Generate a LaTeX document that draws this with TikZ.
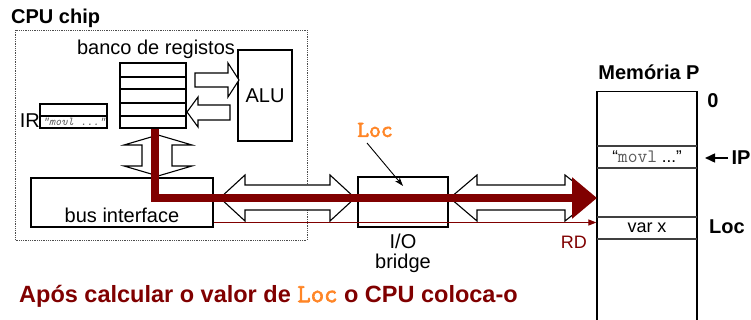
\documentclass[tikz,border=0pt]{standalone}
\usepackage{fontspec}
\setmainfont{Liberation Sans}
\newfontfamily\locfont{Latin Modern Mono}[FakeBold=2.5]
\usetikzlibrary{arrows.meta,positioning}
\definecolor{busRed}{HTML}{800000}
\definecolor{locOrange}{HTML}{FF8526}
\definecolor{irGray}{HTML}{5A5A5A}
\definecolor{cellInk}{HTML}{404040}
\tikzset{
  every picture/.style={font=\fontsize{20}{20}\selectfont},
  cpu box/.style={draw=black, line width=1.2pt, fill=white, inner sep=0pt},
  cpu chip/.style={draw=black!70, line width=0.8pt, densely dotted},
  cpu reg/.style={draw=black, line width=2.4pt},
  cpu hollow/.style={draw=black, line width=1.1pt, fill=white, line join=miter},
  cpu flow/.style={draw=busRed, line width=8pt, line join=miter,
    -{Triangle[length=25pt,width=40pt]}},
  cpu signal/.style={draw=busRed, line width=1pt, -{Triangle[length=8pt,width=6pt]}},
  cpu pointer/.style={draw=black, line width=0.9pt, -{Stealth[length=9pt,width=6pt]}},
  cpu index/.style={draw=black, line width=1.6pt, -{Triangle[length=10pt,width=9pt]}},
  cpu cell/.style={draw=cellInk, line width=1.1pt},
  cpu bold/.style={font=\fontsize{20}{20}\selectfont\bfseries}
}

\begin{document}
\begin{tikzpicture}[x=1pt,y=-1pt]
  \useasboundingbox (0,0) rectangle (751,320);
  \clip (0,0) rectangle (751,320);
  \node[cpu bold, anchor=west, inner sep=0pt] (chiptitle) at (11,18) {CPU chip};
  \draw[cpu chip] (15,30) rectangle (307,240);
  \node[inner sep=0pt] (banktitle) at (156,49) {banco de registos};
  \node[cpu box, minimum width=66pt, minimum height=65pt] (regs) at (153,95.5) {};
  \foreach \y in {77,89,103,116}
    \draw[cpu reg] (120,\y) -- (186,\y);
  \node[cpu box, minimum width=54pt, minimum height=91pt] (alu) at (265,95.5) {ALU};
  \node[cpu box, minimum width=67pt, minimum height=24pt] (ir) at (73.5,116) {};
  \draw[cpu reg, line width=1.4pt] (ir.west) -- (ir.east);
  \node[inner sep=0pt, font=\fontsize{12}{12}\selectfont\ttfamily\itshape, text=irGray]
    (ircode) at (74,122) {“movl ...”};
  \node[anchor=east, inner sep=0pt] (irname) at (40,121) {IR};
  \node[cpu box, minimum width=182pt, minimum height=49pt] (busif) at (122,202.5) {};
  \node[inner sep=0pt] (busname) at (122,215) {bus interface};
  \node[cpu box, minimum width=90pt, minimum height=50pt] (bridge) at (403,202) {};
  \node[below=6pt of bridge, inner sep=0pt, align=center] (bridgename) {I/O\\bridge};
  \node[cpu box, anchor=north, minimum width=100pt, minimum height=240pt] (mem) at (647,91) {};
  \foreach \y in {146,168,217,239}
    \draw[cpu cell] (597,\y) -- (697,\y);
  \node[cpu bold] (memtitle) at (649,72) {Memória P};
  \node[cpu bold] (zero) at (713,101) {0};
  \node[font=\fontsize{17}{17}\selectfont] (ipcell) at (647,157)
    {“\textcolor{irGray}{\fontsize{19}{19}\selectfont\ttfamily movl} ...”};
  \node[font=\fontsize{18}{18}\selectfont] (varx) at (647,228) {var x};
  \node[cpu bold] (iplabel) at (741,158) {IP};
  \node[cpu bold] (memloc) at (727,227) {Loc};
  \draw[cpu index] (iplabel.west) -- ++(-23,0);

  \draw[cpu hollow] (195,73) -- (228,73) -- (228,63) -- (239,80) -- (228,97)
    -- (228,87) -- (195,87) -- cycle;
  \draw[cpu hollow] (230,105) -- (198,105) -- (198,97) -- (187,112) -- (198,127)
    -- (198,120) -- (230,120) -- cycle;
  \draw[cpu hollow] (158,135) -- (192,145) -- (172,145) -- (172,166) -- (192,166)
    -- (158,176) -- (124,166) -- (142,166) -- (142,145) -- (124,145) -- cycle;
  \draw[cpu hollow] (220,198) -- (245,175) -- (245,185) -- (330,185) -- (330,175)
    -- (355,198) -- (330,221) -- (330,210) -- (245,210) -- (245,221) -- cycle;
  \draw[cpu hollow] (450,198) -- (477,175) -- (477,185) -- (565,185) -- (565,175)
    -- (594,198) -- (565,221) -- (565,210) -- (477,210) -- (477,221) -- cycle;

  \coordinate (rdstart) at ([yshift=-20pt]busif.east);
  \draw[cpu signal] (rdstart) -- (rdstart -| mem.west);
  \node[anchor=east, inner sep=0pt, text=busRed, font=\fontsize{18}{18}\selectfont]
    (rdlabel) at (587,242) {RD};
  \coordinate (flowtop) at ([xshift=2pt]regs.south);
  \coordinate (flowend) at (597,198);
  \draw[cpu flow] (flowtop) |- (flowend);

  \node[inner sep=1pt, text=locOrange, font=\fontsize{23}{23}\selectfont\locfont]
    (loclabel) at (375,130) {Loc};
  \coordinate (locmark) at (403,186);
  \draw[cpu pointer] (loclabel) ++(-8,13) -- (locmark);

  \node[anchor=west, inner sep=0pt, text=busRed, font=\fontsize{23.5}{23.5}\selectfont\bfseries]
    (caption) at (19,296)
    {Após calcular o valor de \textcolor{locOrange}{\fontsize{26}{26}\selectfont\locfont Loc} o CPU coloca-o};
\end{tikzpicture}
\end{document}
